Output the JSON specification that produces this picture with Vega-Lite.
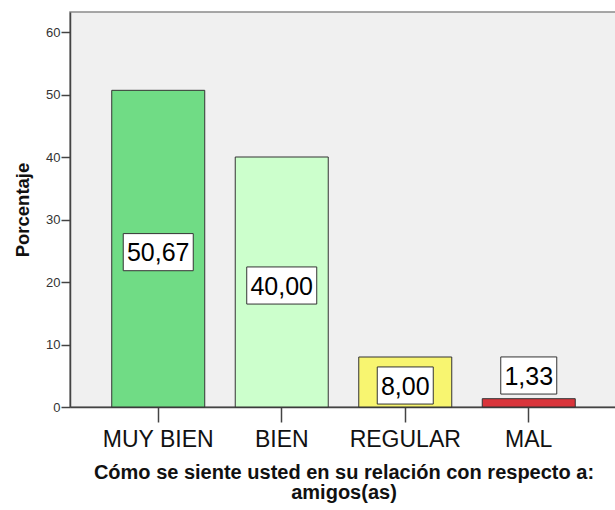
{
  "$schema": "https://vega.github.io/schema/vega-lite/v6.json",
  "autosize": {"type": "none"},
  "width": 547,
  "height": 395,
  "padding": {"left": 70, "top": 12, "right": 0, "bottom": 103},
  "background": "white",
  "config": {
    "font": "Liberation Sans",
    "view": {"fill": "#f0f0f0", "stroke": "#8a8a8a", "strokeWidth": 1.5},
    "locale": {"number": {"decimal": ",", "thousands": ".", "grouping": [3], "currency": ["", " €"]}}
  },
  "data": {
    "values": [
      {"cat": "MUY BIEN", "pct": 50.67},
      {"cat": "BIEN", "pct": 40.00},
      {"cat": "REGULAR", "pct": 8.00},
      {"cat": "MAL", "pct": 1.33}
    ]
  },
  "transform": [
    {"calculate": "datum.pct < 5 ? 5.6 : datum.pct / 2", "as": "labelPos"}
  ],
  "encoding": {
    "x": {
      "field": "cat",
      "type": "nominal",
      "sort": ["MUY BIEN", "BIEN", "REGULAR", "MAL"],
      "scale": {"paddingInner": 0.247, "paddingOuter": 0.338},
      "axis": {
        "labelAngle": 0,
        "labelFontSize": 23,
        "labelColor": "#111",
        "labelPadding": 6,
        "domainColor": "#444",
        "domainWidth": 1.5,
        "tickColor": "#444",
        "tickWidth": 1.5,
        "tickSize": 15,
        "title": ["Cómo se siente usted en su relación con respecto a:", "amigos(as)"],
        "titleFontSize": 20,
        "titleFontWeight": "bold",
        "titleColor": "#111",
        "titlePadding": 11,
        "titleLineHeight": 20
      }
    }
  },
  "layer": [
    {
      "mark": {"type": "bar", "stroke": "#333", "strokeWidth": 1},
      "encoding": {
        "y": {
          "field": "pct",
          "type": "quantitative",
          "scale": {"domain": [0, 63.2], "nice": false},
          "axis": {
            "values": [0, 10, 20, 30, 40, 50, 60],
            "grid": false,
            "labelFontSize": 13,
            "labelColor": "#333",
            "labelPadding": 1,
            "domainColor": "#444",
            "domainWidth": 1.5,
            "tickColor": "#444",
            "tickWidth": 1.5,
            "tickSize": 9,
            "title": "Porcentaje",
            "titleFontSize": 18.5,
            "titleFontWeight": "bold",
            "titleColor": "#111",
            "titlePadding": 13
          }
        },
        "color": {
          "field": "cat",
          "type": "nominal",
          "legend": null,
          "scale": {
            "domain": ["MUY BIEN", "BIEN", "REGULAR", "MAL"],
            "range": ["#70dc85", "#ccffcc", "#f8f570", "#d9353b"]
          }
        }
      }
    },
    {
      "mark": {"type": "point", "filled": true, "fill": "white", "stroke": "#333", "strokeWidth": 1, "opacity": 1},
      "encoding": {
        "y": {"field": "labelPos", "type": "quantitative"},
        "yOffset": {"value": 3.5},
        "size": {"value": 4900},
        "shape": {
          "condition": {"test": "datum.pct >= 10", "value": "M-1,-0.53H1V0.53H-1Z"},
          "value": "M-0.8,-0.53H0.8V0.53H-0.8Z"
        }
      }
    },
    {
      "mark": {"type": "text", "fontSize": 25, "color": "#000", "align": "center", "baseline": "middle", "dy": 4.5},
      "encoding": {
        "y": {"field": "labelPos", "type": "quantitative"},
        "text": {"field": "pct", "type": "quantitative", "format": ".2f"}
      }
    }
  ]
}
